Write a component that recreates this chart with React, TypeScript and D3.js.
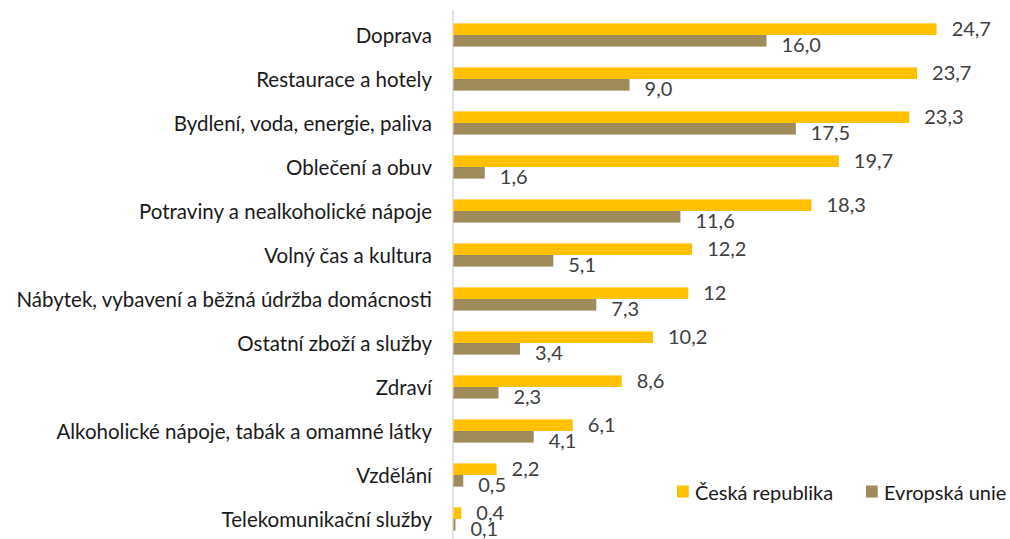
import React from "react";
import * as d3 from "d3";

const categories = [
  "Doprava",
  "Restaurace a hotely",
  "Bydlení, voda, energie, paliva",
  "Oblečení a obuv",
  "Potraviny a nealkoholické nápoje",
  "Volný čas a kultura",
  "Nábytek, vybavení a běžná údržba domácnosti",
  "Ostatní zboží a služby",
  "Zdraví",
  "Alkoholické nápoje, tabák a omamné látky",
  "Vzdělání",
  "Telekomunikační služby",
];
const czValues = [24.7, 23.7, 23.3, 19.7, 18.3, 12.2, 12, 10.2, 8.6, 6.1, 2.2, 0.4];
const euValues = [16.0, 9.0, 17.5, 1.6, 11.6, 5.1, 7.3, 3.4, 2.3, 4.1, 0.5, 0.1];
const czLabels = ["24,7", "23,7", "23,3", "19,7", "18,3", "12,2", "12", "10,2", "8,6", "6,1", "2,2", "0,4"];
const euLabels = ["16,0", "9,0", "17,5", "1,6", "11,6", "5,1", "7,3", "3,4", "2,3", "4,1", "0,5", "0,1"];
const seriesNames = ["Česká republika", "Evropská unie"];
const colors = ["#FFC000", "#9E8A5A"];

const W = 1010;
const H = 539;
const FONT = "Lato, 'Open Sans', sans-serif";

export default function App() {
  const x0 = 453.5;
  const x = d3.scaleLinear().domain([0, 1]).range([x0, x0 + 19.56]);
  const y = d3.scaleBand<string>().domain(categories).range([13, 13 + 44 * categories.length]).paddingInner(0).paddingOuter(0);
  const barH = 11.6;
  const legendX = [677, 866];

  return (
    <div style={{ position: "absolute", left: 0, top: 0 }}>
      <svg width={W} height={H} style={{ display: "block", background: "#fff" }}>
        <line x1={x0 - 0.5} x2={x0 - 0.5} y1={10} y2={H} stroke="#d9d9d9" strokeWidth={1.5} />
        {categories.map((c, i) => {
          const cy = (y(c) as number) + y.bandwidth() / 2;
          const yTop = cy - barH;
          return (
            <g key={c}>
              <text x={432} y={cy} textAnchor="end" dominantBaseline="central" fontFamily={FONT} fontSize={20.5} fill="#1a1a1a">
                {c}
              </text>
              <rect x={x(0)} y={yTop} width={x(czValues[i]) - x(0)} height={barH} fill={colors[0]} />
              <rect x={x(0)} y={cy} width={x(euValues[i]) - x(0)} height={barH} fill={colors[1]} />
              <text x={x(czValues[i]) + 15} y={cy - barH / 2 - 1.5} dominantBaseline="central" fontFamily={FONT} fontSize={20} fill="#404040">
                {czLabels[i]}
              </text>
              <text x={x(euValues[i]) + 15} y={cy + barH / 2 + 3} dominantBaseline="central" fontFamily={FONT} fontSize={20} fill="#404040">
                {euLabels[i]}
              </text>
            </g>
          );
        })}
        {seriesNames.map((s, i) => {
          const lx = legendX[i];
          return (
            <g key={s}>
              <rect x={lx} y={485.5} width={11.7} height={12} fill={colors[i]} />
              <text x={lx + 18} y={492} dominantBaseline="central" fontFamily={FONT} fontSize={20} fill="#1a1a1a">
                {s}
              </text>
            </g>
          );
        })}
      </svg>
    </div>
  );
}
